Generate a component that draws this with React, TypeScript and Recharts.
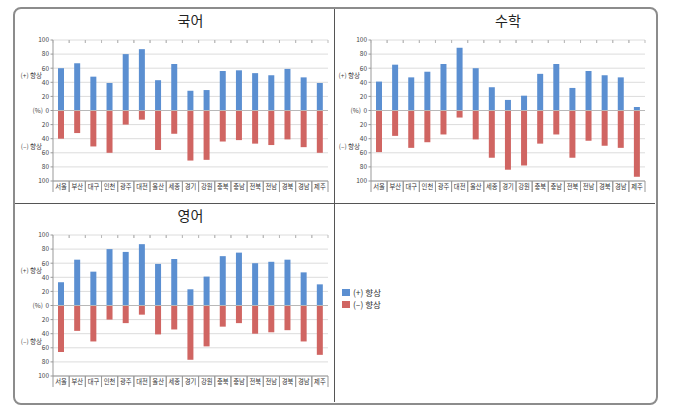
import { BarChart, Bar, XAxis, YAxis, CartesianGrid, ReferenceLine } from 'recharts'

const REGIONS = ['서울', '부산', '대구', '인천', '광주', '대전', '울산', '세종', '경기', '강원', '충북', '충남', '전북', '전남', '경북', '경남', '제주']

const KOREAN_UP = [60, 67, 48, 39, 80, 87, 43, 66, 28, 29, 56, 57, 53, 50, 59, 47, 39]
const KOREAN_DOWN = [40, 32, 51, 60, 20, 13, 56, 33, 71, 70, 44, 42, 47, 49, 41, 52, 60]

const MATH_UP = [41, 65, 47, 55, 66, 89, 60, 33, 15, 21, 52, 66, 32, 56, 50, 47, 5]
const MATH_DOWN = [59, 36, 53, 45, 34, 10, 41, 67, 84, 78, 47, 34, 67, 43, 50, 53, 94]

const ENGLISH_UP = [33, 65, 48, 80, 76, 87, 59, 66, 23, 41, 70, 75, 60, 62, 65, 47, 30]
const ENGLISH_DOWN = [66, 36, 51, 20, 25, 13, 41, 34, 77, 58, 30, 25, 40, 38, 35, 51, 70]

const Y_TICKS = [-100, -80, -60, -40, -20, 0, 20, 40, 60, 80, 100]

const BLUE = '#5b8fd1'
const RED = '#d06562'
const FONT = '"Noto Sans CJK KR", "Noto Sans", sans-serif'

const buildRows = (up: number[], down: number[]) =>
  REGIONS.map((name, i) => ({ name, up: up[i], down: -down[i] }))

const YTick = ({ x, y, payload }: any) => {
  const v = payload.value
  return (
    <g>
      <line x1={x + 0.5} x2={x + 3} y1={y} y2={y} stroke="#999" />
      <text x={x - 1} y={y} dy={2.3} textAnchor="end" fontSize={6.5} fill="#444" fontFamily={FONT}>
        {Math.abs(v)}
      </text>
      {v === 0 && (
        <text x={x - 7} y={y} dy={2.3} textAnchor="end" fontSize={6.5} fill="#444" fontFamily={FONT}>
          (%)
        </text>
      )}
      {v === 60 && (
        <text x={x - 8} y={y + 7.5} dy={2.3} textAnchor="end" fontSize={6.5} fill="#444" fontFamily={FONT}>
          (+) 향상
        </text>
      )}
      {v === -40 && (
        <text x={x - 8} y={y + 7.5} dy={2.3} textAnchor="end" fontSize={6.5} fill="#444" fontFamily={FONT}>
          (–) 향상
        </text>
      )}
    </g>
  )
}

const makeXTick = (band: number, zeroOffset: number) => ({ x, y, payload }: any) => {
  const top = y - 2
  const zeroY = top - zeroOffset
  return (
    <g>
      <line x1={x - band / 2} x2={x - band / 2} y1={top} y2={top + 11} stroke="#999" />
      <line x1={x + band / 2} x2={x + band / 2} y1={top} y2={top + 11} stroke="#999" />
      <line x1={x - band / 2} x2={x - band / 2} y1={zeroY} y2={zeroY + 3} stroke="#bbb" />
      <line x1={x + band / 2} x2={x + band / 2} y1={zeroY} y2={zeroY + 3} stroke="#bbb" />
      <text x={x} y={top + 8} textAnchor="middle" fontSize={6.3} fill="#333" fontFamily={FONT}>
        {payload.value}
      </text>
    </g>
  )
}

const Panel = ({
  title,
  up,
  down,
  left,
  top,
  width,
  yWidth,
}: {
  title: string
  up: number[]
  down: number[]
  left: number
  top: number
  width: number
  yWidth: number
}) => {
  const marginRight = 8
  const plotW = width - yWidth - marginRight
  const plotH = 141
  const band = plotW / REGIONS.length
  return (
    <>
      <div
        style={{
          position: 'absolute',
          left: left + yWidth,
          width: plotW,
          top: top - 18,
          textAlign: 'center',
          fontSize: 14,
          color: '#222',
          fontFamily: FONT,
        }}
      >
        {title}
      </div>
      <div style={{ position: 'absolute', left, top: top }}>
        <BarChart
          width={width}
          height={12 + plotH + 14 + 3}
          data={buildRows(up, down)}
          stackOffset="sign"
          margin={{ top: 12, right: marginRight, bottom: 3, left: 0 }}
        >
          <CartesianGrid vertical={false} stroke="#dcdcdc" />
          <XAxis
            dataKey="name"
            tickLine={false}
            tickSize={0}
            tickMargin={2}
            height={14}
            axisLine={{ stroke: '#999' }}
            interval={0}
            tick={makeXTick(band, plotH)}
          />
          <YAxis
            width={yWidth}
            domain={[-100, 100]}
            ticks={Y_TICKS}
            interval={0}
            tickSize={3}
            tickMargin={0}
            tickLine={false}
            axisLine={{ stroke: '#999' }}
            tick={<YTick />}
          />
          <ReferenceLine y={0} stroke="#b8b8b8" />
          <Bar dataKey="up" stackId="a" fill={BLUE} barSize={6} isAnimationActive={false} />
          <Bar dataKey="down" stackId="a" fill={RED} barSize={6} isAnimationActive={false} />
        </BarChart>
      </div>
    </>
  )
}

export default function App() {
  return (
    <div style={{ position: 'absolute', left: 0, top: 0, width: 675, height: 413, background: '#fff' }}>
      <div
        style={{
          position: 'absolute',
          left: 13,
          top: 7,
          width: 641,
          height: 394,
          border: '2px solid #8c8c8c',
          borderRadius: 8,
        }}
      />
      <div style={{ position: 'absolute', left: 334, top: 9, width: 1.3, height: 393, background: '#555' }} />
      <div style={{ position: 'absolute', left: 15, top: 203, width: 640, height: 1.3, background: '#555' }} />

      <Panel title="국어" up={KOREAN_UP} down={KOREAN_DOWN} left={14} top={28} width={322} yWidth={39} />
      <Panel title="수학" up={MATH_UP} down={MATH_DOWN} left={335} top={28} width={318} yWidth={36} />
      <Panel title="영어" up={ENGLISH_UP} down={ENGLISH_DOWN} left={14} top={223} width={322} yWidth={39} />

      <div style={{ position: 'absolute', left: 342, top: 286, fontFamily: FONT, fontSize: 8.5, color: '#333' }}>
        <div style={{ display: 'flex', alignItems: 'center', height: 12 }}>
          <span style={{ width: 8, height: 7, background: BLUE, marginRight: 3 }} />
          (+) 향상
        </div>
        <div style={{ display: 'flex', alignItems: 'center', height: 12 }}>
          <span style={{ width: 8, height: 7, background: RED, marginRight: 3 }} />
          (–) 향상
        </div>
      </div>
    </div>
  )
}
